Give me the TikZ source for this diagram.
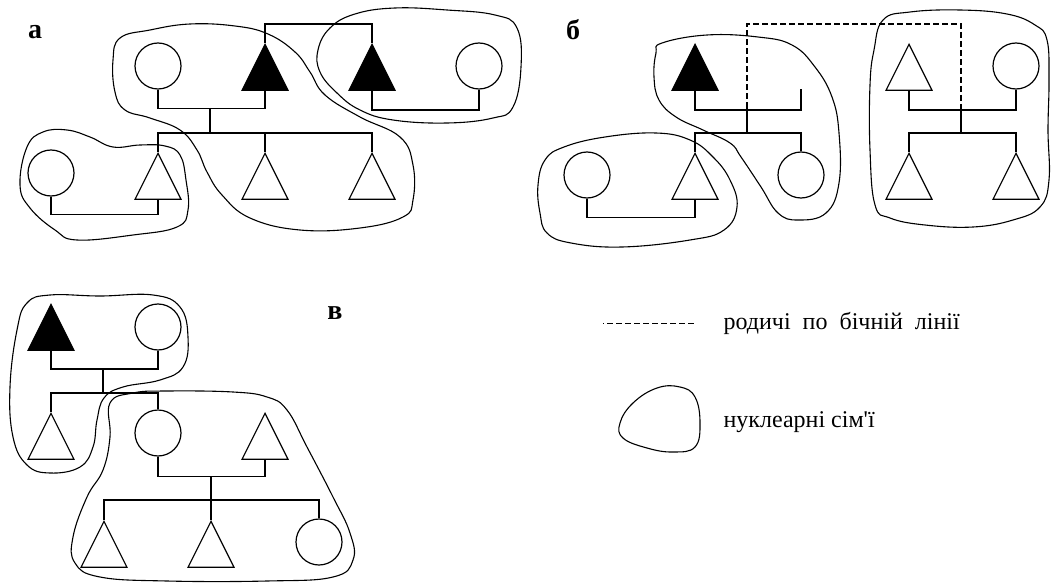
\documentclass[tikz,border=0pt]{standalone}
\usepackage{fontspec}
\setmainfont{Liberation Serif}
\usetikzlibrary{shapes.geometric}
\begin{document}
\begin{tikzpicture}[x=1pt,y=-1pt,line width=1.2pt,
  fem/.style={draw,circle,minimum size=46pt,inner sep=0pt},
  male/.style={draw,isosceles triangle,shape border rotate=90,isosceles triangle apex angle=53.13,isosceles triangle stretches,minimum width=46pt,minimum height=46pt,inner sep=0pt,anchor=apex},
  malef/.style={male,fill=black},
  blob/.style={draw,line width=1.1pt},
  lbl/.style={font=\fontsize{28}{30}\selectfont\bfseries,inner sep=0pt},
  txt/.style={font=\fontsize{24}{28}\selectfont,inner sep=0pt,anchor=west},
  rel/.style={dash pattern=on 6pt off 3pt}]
\useasboundingbox (0,0) rectangle (1052,583);
% ---------- panel a
\node[lbl] (la) at (35,32) {а};
\node[fem] (a_w) at (158,66) {};
\node[malef] (a_h) at (265,43) {};
\node[malef] (a_b) at (372,43) {};
\node[fem] (a_bw) at (479,66) {};
\node[male] (a_k1) at (158,152) {};
\node[male] (a_k2) at (265,152) {};
\node[male] (a_k3) at (372,152) {};
\node[fem] (a_kw) at (51,173) {};
\coordinate (a_m) at (210,108);
\coordinate (a_s) at (210,133);
\draw (a_w.south) -- ++(0,19) -| (a_h.lower side);
\draw (a_m) -- (a_s);
\draw (a_k1.apex) -- ++(0,-19) -| (a_k3.apex);
\draw (a_k2.apex) -- ++(0,-19);
\draw (a_h.apex) -- ++(0,-19) -| (a_b.apex);
\draw (a_b.lower side) -- ++(0,19) -| (a_bw.south);
\draw (a_kw.south) -- ++(0,18) -| (a_k1.lower side);
\draw[blob] plot[smooth cycle,tension=0.7] coordinates {(120,38) (150,30) (190,24) (235,26) (268,34) (295,52) (310,72) (325,95) (360,117) (400,137) (413,165) (413,200) (403,217) (360,228) (300,230) (250,218) (222,195) (207,172) (197,150) (180,130) (150,118) (125,110) (115,92) (113,60)};
\draw[blob] plot[smooth cycle,tension=0.7] coordinates {(318,50) (330,28) (355,14) (395,8) (447,10) (495,15) (517,28) (521,67) (513,107) (493,118) (447,123) (393,120) (360,110) (337,93) (320,72)};
\draw[blob] plot[smooth cycle,tension=0.7] coordinates {(20,185) (27,147) (43,132) (67,130) (90,137) (113,147) (140,145) (165,146) (180,155) (186,180) (188,210) (177,227) (133,235) (77,240) (55,230) (30,208)};
% ---------- panel b
\node[lbl] (lb) at (573,30) {б};
\node[malef] (b_h) at (695,43) {};
\coordinate (b_sp) at (801,89);
\node[male] (b_k1) at (695,152) {};
\node[fem] (b_k2) at (801,175) {};
\node[fem] (b_kw) at (587,175) {};
\node[male] (b_r1) at (909,43) {};
\node[fem] (b_r2) at (1016,66) {};
\node[male] (b_r3) at (909,152) {};
\node[male] (b_r4) at (1016,152) {};
\coordinate (b_m) at (747,108);
\coordinate (b_s) at (747,133);
\coordinate (b_rm) at (961,108);
\coordinate (b_rs) at (961,133);
\draw (b_h.lower side) -- ++(0,19) -| (b_sp);
\draw (b_m) -- (b_s);
\draw (b_k1.apex) -- ++(0,-19) -| (b_k2.north);
\draw (b_kw.south) -- ++(0,19) -| (b_k1.lower side);
\draw (b_r1.lower side) -- ++(0,19) -| (b_r2.south);
\draw (b_rm) -- (b_rs);
\draw (b_r3.apex) -- ++(0,-19) -| (b_r4.apex);
\draw[rel] (b_m) -- ++(0,-84) -| (b_rm);
\draw[blob] plot[smooth cycle,tension=0.7] coordinates {(538,185) (545,160) (564,147) (605,137) (656,133) (690,140) (713,157) (730,180) (737,207) (724,230) (690,240) (622,247) (571,243) (547,233) (540,213)};
\draw[blob] plot[smooth cycle,tension=0.7] coordinates {(662,43) (707,35) (758,37) (792,45) (815,67) (832,97) (839,133) (839,183) (826,213) (798,220) (778,213) (761,187) (741,157) (730,143) (703,130) (676,117) (659,100) (654,77) (656,53)};
\draw[blob] plot[smooth cycle,tension=0.7] coordinates {(883,20) (910,12) (960,10) (1007,14) (1035,25) (1047,40) (1049,80) (1048,130) (1049,180) (1040,207) (1013,220) (973,227) (925,225) (890,218) (875,205) (870,150) (870,85) (874,50)};
% ---------- panel v
\node[lbl] (lv) at (335,313) {в};
\node[malef] (c_h) at (51,303) {};
\node[fem] (c_w) at (158,327) {};
\node[male] (c_k1) at (51,412) {};
\node[fem] (c_k2) at (158,433) {};
\node[male] (c_sp) at (265,412) {};
\node[male] (c_g1) at (104,520) {};
\node[male] (c_g2) at (211,520) {};
\node[fem] (c_g3) at (319,542) {};
\coordinate (c_m) at (103,368);
\coordinate (c_s) at (103,393);
\coordinate (c_m2) at (211,476);
\coordinate (c_s2) at (211,500);
\draw (c_h.lower side) -- ++(0,18) -| (c_w.south);
\draw (c_m) -- (c_s);
\draw (c_k1.apex) -- ++(0,-19) -| (c_k2.north);
\draw (c_k2.south) -- ++(0,20) -| (c_sp.lower side);
\draw (c_m2) -- (c_s2);
\draw (c_g1.apex) -- ++(0,-20) -| (c_g3.north);
\draw (c_g2.apex) -- ++(0,-20);
\draw[blob] plot[smooth cycle,tension=0.7] coordinates {(27,303) (50,295) (100,296) (153,295) (180,307) (188,337) (183,367) (160,380) (123,387) (104,398) (97,420) (93,447) (80,467) (50,473) (27,465) (13,437) (10,387) (17,330)};
\draw[blob] plot[smooth cycle,tension=0.7] coordinates {(110,403) (133,393) (167,391) (233,392) (267,397) (287,410) (307,447) (333,497) (350,533) (353,560) (333,577) (267,581) (167,581) (100,577) (75,563) (73,537) (87,497) (103,470) (110,437)};
% ---------- legend
\coordinate (g_a) at (603,323);
\coordinate (g_b) at (695,323);
\draw[rel,dash phase=5pt,line width=1pt] (g_a) -- (g_b);
\node[txt] (t1) at (723,323) {родичі\ \ по\ \ бічній\ \ лінії};
\draw[blob] plot[smooth cycle,tension=0.7] coordinates {(620,423) (633,403) (657,388) (680,387) (695,397) (700,423) (695,447) (673,452) (647,448) (623,438)};
\node[txt] (t2) at (723,422) {нуклеарні сім\textquotesingle ї};
\end{tikzpicture}
\end{document}
